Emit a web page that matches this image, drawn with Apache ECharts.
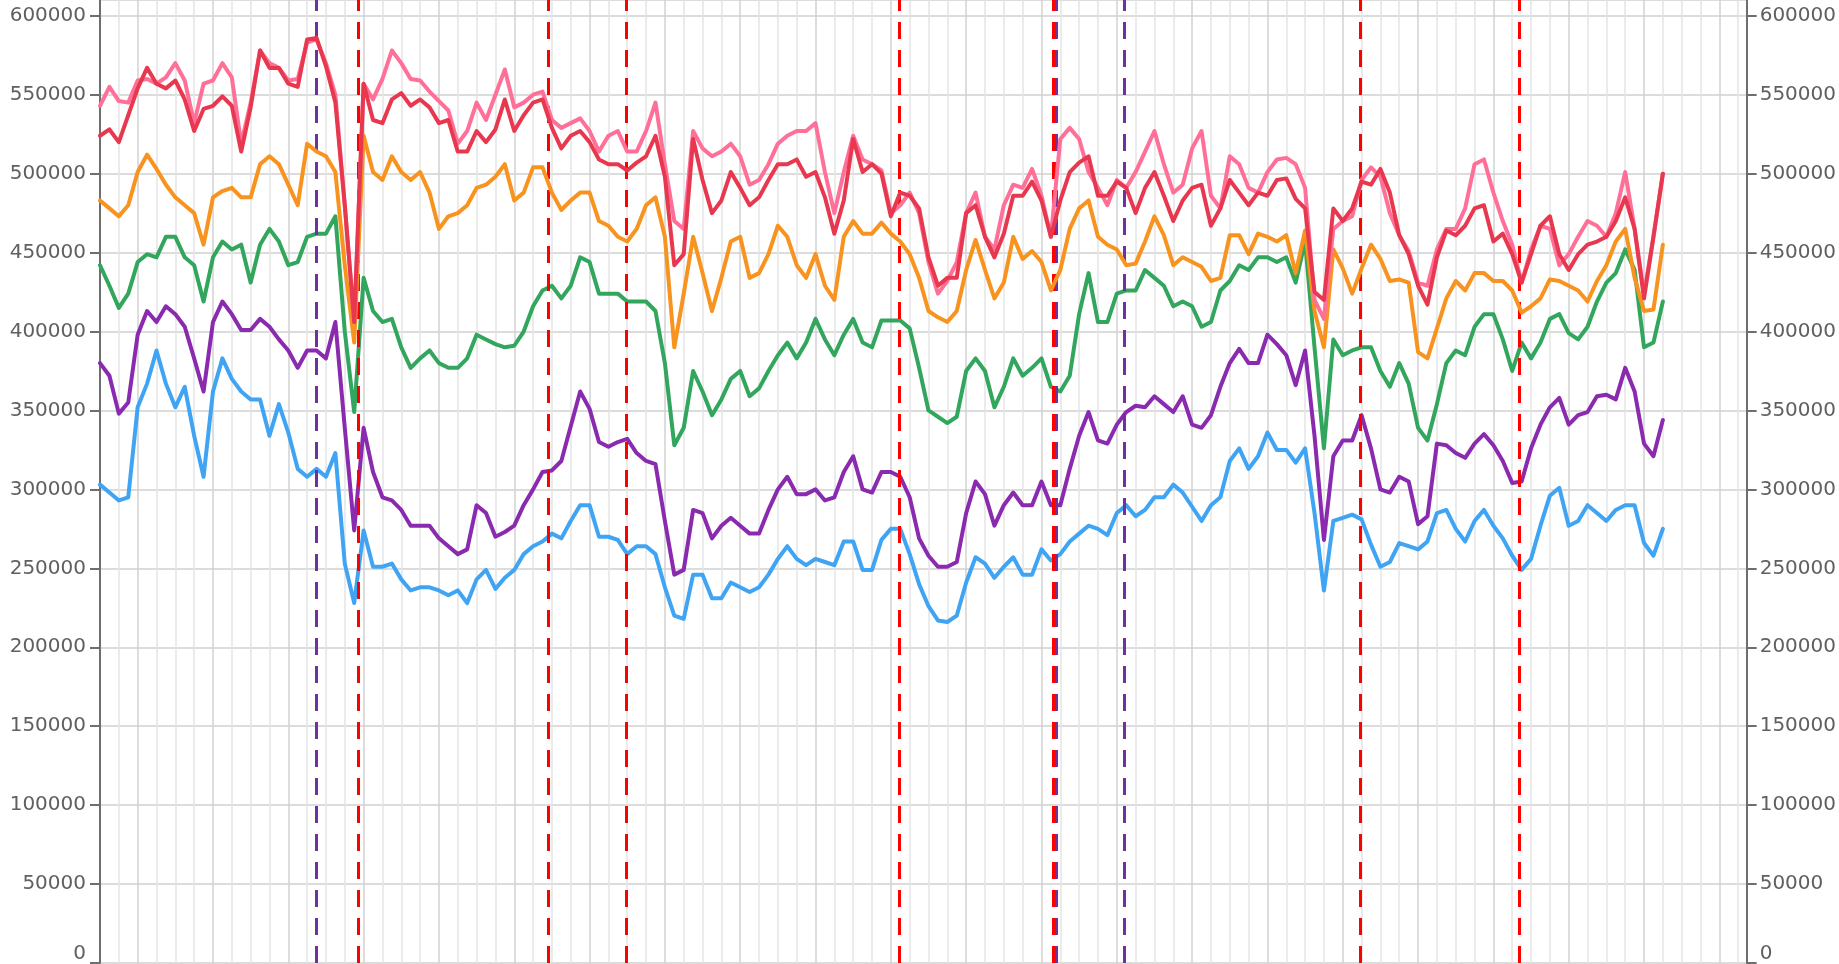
<!DOCTYPE html>
<html><head><meta charset="utf-8">
<script src="https://cdn.jsdelivr.net/npm/echarts@6/dist/echarts.min.js"></script>
<style>html,body{margin:0;padding:0;background:#fff;overflow:hidden}#c{width:1839px;height:964px}</style>
</head><body><div id="c"></div>
<script>
// x position of each sample, in months (one sample every half month)
const sampleStepMonths = 0.5;
const xMaxMonths = 87.45;

const pinkValues = [543000,555000,546000,545000,559000,560000,557000,561000,570000,559000,532000,557000,559000,570000,561000,519000,545000,578000,570000,567000,559000,560000,583000,585000,570000,550000,480000,406000,557000,547000,560000,578000,570000,560000,559000,552000,546000,540000,519000,527000,545000,534000,550000,
566000,542000,545000,550000,552000,534000,529000,532000,535000,527000,514000,524000,527000,514000,514000,527000,545000,506000,470000,465000,527000,516000,511000,514000,519000,511000,493000,496000,506000,519000,524000,527000,527000,532000,501000,475000,501000,524000,509000,506000,502000,
475000,480000,488000,475000,444000,424000,432000,444000,475000,488000,460000,452000,480000,493000,491000,503000,486000,460000,522000,529000,522000,501000,491000,480000,496000,491000,501000,514000,527000,506000,488000,493000,516000,527000,486000,478000,511000,506000,491000,488000,501000,509000,
510000,506000,491000,420000,408000,465000,470000,473000,496000,504000,498000,475000,461000,451000,431000,429000,452000,465000,465000,478000,506000,509000,488000,470000,455000,431000,452000,467000,465000,442000,449000,460000,470000,467000,460000,475000,501000,465000,424000,460000,500000];

const redValues = [524000,528000,520000,537000,554000,567000,557000,554000,559000,547000,527000,541000,543000,549000,543000,514000,542000,578000,567000,567000,557000,555000,585000,586000,568000,545000,480000,406000,557000,534000,532000,547000,551000,543000,547000,542000,532000,534000,514000,514000,527000,520000,528000,
547000,527000,537000,545000,547000,529000,516000,524000,527000,520000,509000,506000,506000,502000,507000,511000,524000,498000,442000,449000,522000,496000,475000,483000,501000,491000,480000,485000,496000,506000,506000,509000,498000,501000,485000,462000,483000,522000,501000,506000,500000,
473000,488000,486000,478000,447000,429000,434000,434000,475000,480000,460000,447000,462000,486000,486000,495000,483000,460000,483000,501000,507000,511000,486000,486000,495000,491000,475000,491000,501000,486000,470000,483000,491000,493000,467000,478000,496000,488000,480000,488000,486000,496000,
497000,484000,478000,425000,420000,478000,470000,478000,495000,493000,503000,488000,461000,449000,429000,417000,447000,464000,461000,467000,478000,480000,457000,462000,449000,431000,449000,467000,473000,449000,439000,449000,455000,457000,460000,470000,485000,465000,421000,460000,500000];

const orangeValues = [483000,478000,473000,480000,501000,512000,503000,493000,485000,480000,475000,455000,485000,489000,491000,485000,485000,506000,511000,506000,493000,480000,519000,514000,511000,501000,442000,393000,524000,501000,496000,511000,501000,496000,501000,488000,465000,473000,475000,480000,491000,493000,498000,
506000,483000,488000,504000,504000,488000,477000,483000,488000,488000,470000,467000,460000,457000,465000,480000,485000,460000,390000,424000,460000,437000,413000,434000,457000,460000,434000,437000,449000,467000,460000,442000,434000,449000,429000,420000,460000,470000,462000,462000,469000,
462000,457000,449000,434000,413000,409000,406000,413000,439000,458000,439000,421000,431000,460000,446000,451000,444000,426000,439000,465000,478000,483000,460000,455000,452000,442000,443000,457000,473000,461000,442000,447000,444000,441000,432000,434000,461000,461000,449000,462000,460000,457000,
461000,437000,464000,413000,390000,452000,440000,424000,440000,455000,446000,432000,433000,431000,387000,383000,402000,421000,432000,426000,437000,437000,432000,432000,426000,412000,416000,421000,433000,432000,429000,426000,419000,432000,442000,457000,465000,434000,413000,414000,455000];

const greenValues = [442000,429000,415000,424000,444000,449000,447000,460000,460000,447000,442000,419000,447000,457000,452000,455000,431000,455000,465000,457000,442000,444000,460000,462000,462000,473000,400000,349000,434000,413000,406000,408000,390000,377000,383000,388000,380000,377000,377000,383000,398000,395000,392000,
390000,391000,400000,416000,426000,429000,421000,429000,447000,444000,424000,424000,424000,419000,419000,419000,413000,380000,328000,339000,375000,362000,347000,357000,370000,375000,359000,364000,375000,385000,393000,383000,393000,408000,395000,385000,398000,408000,393000,390000,407000,
407000,407000,402000,377000,350000,346000,342000,346000,375000,383000,375000,352000,365000,383000,372000,377000,383000,365000,362000,372000,411000,437000,406000,406000,424000,426000,426000,439000,434000,429000,416000,419000,416000,403000,406000,426000,432000,442000,439000,447000,447000,444000,
447000,431000,457000,390000,326000,395000,385000,388000,390000,390000,375000,365000,380000,367000,339000,331000,354000,380000,388000,385000,403000,411000,411000,395000,375000,393000,383000,393000,408000,411000,399000,395000,403000,419000,431000,437000,452000,439000,390000,393000,419000];

const purpleValues = [380000,372000,348000,355000,398000,413000,406000,416000,411000,403000,383000,362000,406000,419000,411000,401000,401000,408000,403000,395000,388000,377000,388000,388000,383000,406000,339000,274000,339000,311000,295000,293000,287000,277000,277000,277000,269000,264000,259000,262000,290000,285000,270000,
273000,277000,290000,300000,311000,312000,318000,340000,362000,351000,330000,327000,330000,332000,323000,318000,316000,280000,246000,249000,287000,285000,269000,277000,282000,277000,272000,272000,287000,300000,308000,297000,297000,300000,293000,295000,311000,321000,300000,298000,311000,
311000,308000,295000,269000,258000,251000,251000,254000,285000,305000,297000,277000,290000,298000,290000,290000,305000,290000,290000,313000,334000,349000,331000,329000,341000,349000,353000,352000,359000,354000,349000,359000,341000,339000,347000,365000,380000,389000,380000,380000,398000,392000,
385000,366000,388000,334000,268000,321000,331000,331000,347000,326000,300000,298000,308000,305000,278000,283000,329000,328000,323000,320000,329000,335000,328000,318000,304000,305000,326000,341000,352000,358000,341000,347000,349000,359000,360000,357000,377000,362000,329000,321000,344000];

const blueValues = [303000,298000,293000,295000,352000,367000,388000,367000,352000,365000,334000,308000,362000,383000,370000,362000,357000,357000,334000,354000,336000,313000,308000,313000,308000,323000,253000,228000,274000,251000,251000,253000,243000,236000,238000,238000,236000,233000,236000,228000,243000,249000,237000,
244000,249000,259000,264000,267000,272000,269000,280000,290000,290000,270000,270000,268000,259000,264000,264000,259000,238000,220000,218000,246000,246000,231000,231000,241000,238000,235000,238000,246000,256000,264000,256000,252000,256000,254000,252000,267000,267000,249000,249000,268000,
275000,275000,259000,240000,226000,217000,216000,220000,241000,257000,253000,244000,251000,257000,246000,246000,262000,255000,259000,267000,272000,277000,275000,271000,285000,290000,283000,287000,295000,295000,303000,298000,289000,280000,290000,295000,318000,326000,313000,321000,336000,325000,
325000,317000,326000,285000,236000,280000,282000,284000,281000,265000,251000,254000,266000,264000,262000,267000,285000,287000,275000,267000,280000,287000,277000,269000,258000,249000,256000,277000,296000,301000,277000,280000,290000,285000,280000,287000,290000,290000,266000,258000,275000];

// event markers (months)
const redEventMonths = [13.7, 23.78, 27.93, 42.45, 50.6, 66.94, 75.35];
const purpleEventMonths = [11.5, 50.8, 54.41];

const seriesDefs = [
  { name: 'blue', values: blueValues, color: '#3fa4f4' },
  { name: 'purple', values: purpleValues, color: '#8a2aae' },
  { name: 'green', values: greenValues, color: '#31a65c' },
  { name: 'orange', values: orangeValues, color: '#f7931e' },
  { name: 'pink', values: pinkValues, color: '#ff6f98' },
  { name: 'red', values: redValues, color: '#e8384f' }
];

const FONT = 'DejaVu Sans';
const labelColor = '#606060';

function toPairs(vals) { return vals.map((v, i) => [i * sampleStepMonths, v]); }

const markLineData = redEventMonths.map(m => ({ xAxis: m, lineStyle: { color: '#ff0000' } }))
  .concat(purpleEventMonths.map(m => ({ xAxis: m, lineStyle: { color: '#7030a0' } })));

const series = seriesDefs.map((s, idx) => ({
  name: s.name, type: 'line', data: toPairs(s.values), showSymbol: false, symbol: 'none',
  lineStyle: { color: s.color, width: 4, join: 'round', cap: 'round' }, itemStyle: { color: s.color },
  animation: false, silent: true, z: 2 + idx
}));
series.push({
  name: 'events', type: 'line', data: [[0, 0]], showSymbol: false, symbol: 'none',
  lineStyle: { opacity: 0 }, z: 20, animation: false, silent: true,
  markLine: {
    silent: true, symbol: ['none', 'none'], animation: false,
    label: { show: false },
    lineStyle: { type: [17, 11], width: 3 },
    data: markLineData
  }
});

const yLabel = {
  fontFamily: FONT, fontSize: 20, color: labelColor, margin: 14, showMaxLabel: false,
  formatter: v => v === 0 ? '{z|0}' : String(v),
  rich: { z: { fontFamily: FONT, fontSize: 20, color: labelColor, padding: [0, 0, 18, 0] } }
};

const chart = echarts.init(document.getElementById('c'), null, { renderer: 'canvas' });
chart.setOption({
  backgroundColor: '#ffffff',
  animation: false,
  grid: { left: 100, right: 92, top: -2, bottom: -3, containLabel: false },
  xAxis: {
    type: 'value', min: 0, max: xMaxMonths, interval: 1,
    axisLine: { show: false }, axisTick: { show: false }, axisLabel: { show: false },
    splitLine: { show: true, lineStyle: { color: ['#e4e4e4', '#e4e4e4', '#d2d2d2', '#e4e4e4'], width: 1.5 } }
  },
  yAxis: [
    {
      type: 'value', position: 'left', min: 0, max: 610000, interval: 50000,
      axisLine: { show: true, lineStyle: { color: '#6e6e6e', width: 2 } },
      axisTick: { show: true, length: 10, lineStyle: { color: '#6e6e6e', width: 2 } },
      axisLabel: yLabel,
      splitLine: { show: true, lineStyle: { color: '#dcdcdc', width: 2 } }
    },
    {
      type: 'value', position: 'right', min: 0, max: 610000, interval: 50000,
      axisLine: { show: true, lineStyle: { color: '#6e6e6e', width: 2 } },
      axisTick: { show: true, length: 10, lineStyle: { color: '#6e6e6e', width: 2 } },
      axisLabel: Object.assign({}, yLabel, { margin: 13 }),
      splitLine: { show: false }
    }
  ],
  series: series
});
</script>
</body></html>
